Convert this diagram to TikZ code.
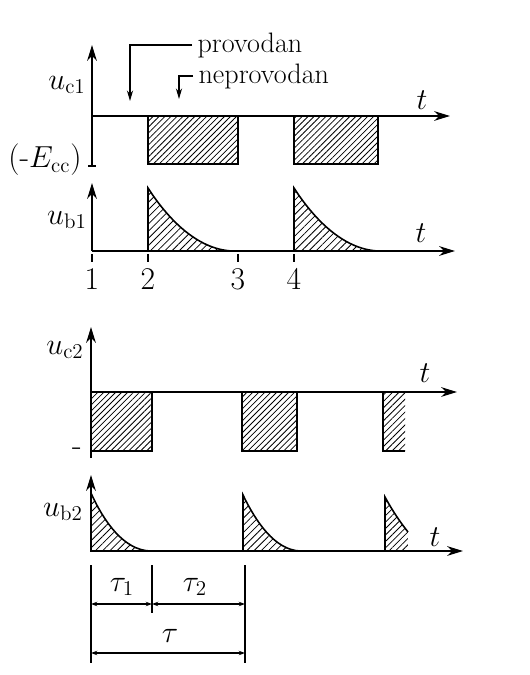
\documentclass[tikz,border=0pt]{standalone}
\usetikzlibrary{positioning, arrows.meta, patterns.meta}

\begin{document}
\begin{tikzpicture}[
    x=0.02cm, y=-0.02cm,
    axis/.style={
        -{Stealth[length=9pt, width=5.5pt]},
        line width=1.1pt
    },
    pulse/.style={
        draw,
        line width=0.9pt,
        pattern={Lines[angle=45, distance=2.4pt, line width=0.45pt]}
    },
    decay/.style={
        draw,
        line width=0.9pt,
        pattern={Lines[angle=45, distance=2.9pt, line width=0.45pt]}
    },
    hatch/.style={
        pattern={Lines[angle=45, distance=2.6pt, line width=0.45pt]}
    },
    lead/.style={
        -{Stealth[length=6pt, width=3.5pt]},
        line width=0.7pt
    },
    dim/.style={
        {Stealth[length=3.5pt, width=2.5pt]}-{Stealth[length=3.5pt, width=2.5pt]},
        line width=0.7pt
    },
    lbl/.style={
        font=\fontsize{18}{20}\selectfont,
        inner sep=1pt
    },
    note/.style={
        font=\fontsize{16}{18}\selectfont,
        inner sep=3pt
    }
]

\useasboundingbox (0,0) rectangle (529,675);

% ==========================================
% u_c1
% ==========================================

% Axes
\coordinate (o1) at (92,116);
\coordinate (y1) at (92,45);
\coordinate (b1) at (92,166);
\coordinate (x1) at (450,116);
\draw[axis] (b1) -- (y1);
\draw[axis] (o1) -- (x1);
\draw[line width=0.9pt] ([xshift=-2pt]b1) -- ([xshift=2pt]b1);

% Pulses
\draw[pulse] (148,116) rectangle (238,164);
\draw[pulse] (294,116) rectangle (378,164);

% Labels
\node[lbl] (uc1) at (67,85) {$u_{\mathrm{c}1}$};
\node[lbl] (ecc) at (45,160) {(-$E_{\mathrm{cc}}$)};
\node[lbl] (t1) at (422,100) {$t$};

% Leader arrows
\node[note, anchor=west] (prov) at (192,45) {provodan};
\coordinate (provtip) at (130,101);
\draw[lead] (prov.west) -| (provtip);

\node[note, anchor=west] (neprov) at (193,76) {neprovodan};
\coordinate (neptip) at (179,99);
\draw[lead] (neprov.west) -| (neptip);

% ==========================================
% u_b1
% ==========================================

% Axes
\coordinate (o2) at (92,251);
\coordinate (y2) at (92,183);
\coordinate (x2) at (455,251);
\draw[axis] (o2) -- (y2);
\draw[axis] (o2) -- (x2);

% Pulses
\foreach \s in {148,294} {
    \draw[decay] (\s,251) -- (\s,188)
        .. controls ({\s+18},216) and ({\s+48},250) .. ({\s+85},251) -- cycle;
}

% Ticks and numbers
\foreach \x/\n in {92/1,148/2,238/3,294/4} {
    \coordinate (k\n) at (\x,254);
    \draw[line width=0.7pt] (k\n) -- (\x,262);
    \node[lbl] (num\n) at (\x,279) {\n};
}

% Labels
\node[lbl] (ub1) at (67,220) {$u_{\mathrm{b}1}$};
\node[lbl] (t2) at (421,233) {$t$};

% ==========================================
% u_c2
% ==========================================

% Axes
\coordinate (o3) at (91,392);
\coordinate (y3) at (91,327);
\coordinate (b3) at (91,458);
\coordinate (x3) at (457,392);
\draw[axis] (b3) -- (y3);
\draw[axis] (o3) -- (x3);

% Pulses
\draw[pulse] (91,392) rectangle (152,451);
\draw[pulse] (242,392) rectangle (297,451);
\fill[hatch] (383,392) rectangle (405,451);
\draw[line width=0.9pt] (383,392) -- (383,451) -- (405,451);

% Labels
\node[lbl] (uc2) at (65,350) {$u_{\mathrm{c}2}$};
\node[lbl] (minus) at (77,452) {-};
\node[lbl] (t3) at (425,373) {$t$};

% ==========================================
% u_b2
% ==========================================

% Axes
\coordinate (o4) at (91,551);
\coordinate (y4) at (91,475);
\coordinate (x4) at (463,551);
\draw[axis] (o4) -- (y4);
\draw[axis] (o4) -- (x4);

% Pulses
\draw[decay] (91,551) -- (91,493)
    .. controls (104,522) and (124,550) .. (150,551) -- cycle;
\draw[decay] (243,551) -- (243,495)
    .. controls (256,522) and (275,550) .. (300,551) -- cycle;
\fill[hatch] (385,551) -- (385,497)
    .. controls (392,510) and (400,522) .. (408,532) -- (408,551) -- cycle;
\draw[line width=0.9pt] (385,551) -- (385,497)
    .. controls (392,510) and (400,522) .. (408,532);

% Labels
\node[lbl] (ub2) at (63,512) {$u_{\mathrm{b}2}$};
\node[lbl] (t4) at (435,537) {$t$};

% ==========================================
% Time intervals
% ==========================================
\coordinate (d0) at (91,565);
\coordinate (d1) at (152,565);
\coordinate (d2) at (245,565);
\draw[line width=0.7pt] (d0) -- (91,663);
\draw[line width=0.7pt] (d1) -- (152,613);
\draw[line width=0.7pt] (d2) -- (245,663);

\coordinate (a0) at (91,604);
\coordinate (a1) at (152,604);
\coordinate (a2) at (245,604);
\draw[dim] (a0) -- (a1);
\draw[dim] (a1) -- (a2);

\coordinate (c0) at (91,653);
\coordinate (c2) at (245,653);
\draw[dim] (c0) -- (c2);

\node[lbl] (tau1) at (122,587) {$\tau_1$};
\node[lbl] (tau2) at (195,587) {$\tau_2$};
\node[lbl] (tau) at (170,636) {$\tau$};

\end{tikzpicture}
\end{document}
